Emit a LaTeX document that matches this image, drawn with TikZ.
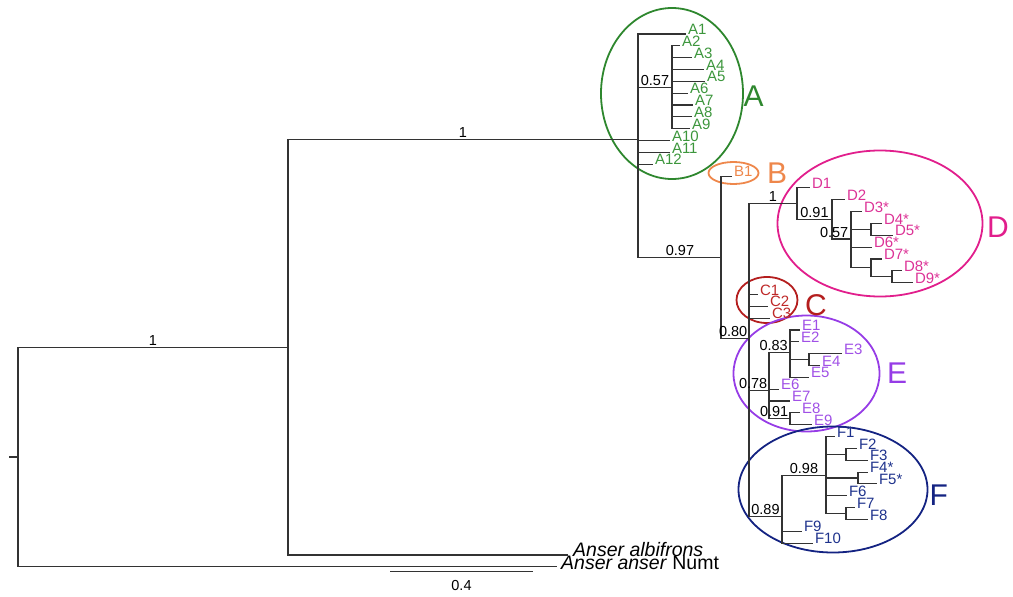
\documentclass[tikz,border=0pt]{standalone}
\usepackage{fontspec}
\setmainfont{Liberation Sans}
\usetikzlibrary{shapes.geometric}
\definecolor{cA}{RGB}{46,135,46}
\definecolor{tA}{RGB}{60,150,60}
\definecolor{cB}{RGB}{238,135,75}
\definecolor{cC}{RGB}{180,30,30}
\definecolor{tC}{RGB}{190,40,40}
\definecolor{cD}{RGB}{225,30,140}
\definecolor{tD}{RGB}{220,50,150}
\definecolor{cE}{RGB}{150,60,230}
\definecolor{tE}{RGB}{160,80,230}
\definecolor{cF}{RGB}{20,35,130}
\definecolor{tF}{RGB}{30,50,140}
\newcommand{\lf}[5]{\coordinate (#1) at (#2,#3); \node[lbl,text=#5] (t#1) at (#1) {#4};}
\begin{document}
\begin{tikzpicture}[x=1pt,y=-1pt,
  br/.style={draw=black!80,line width=1.1pt},
  lbl/.style={anchor=base west,inner sep=0pt,xshift=1.8pt,yshift=-0.6pt,font=\fontsize{15}{18}\selectfont},
  post/.style={inner sep=0pt,font=\fontsize{14.5}{17}\selectfont,text=black},
  oval/.style={ellipse,draw,line width=1.8pt,inner sep=0pt},
  big/.style={anchor=base west,inner sep=0pt,font=\fontsize{30}{34}\selectfont}]
\useasboundingbox (0,0) rectangle (1013,597);
% internal nodes
\coordinate (root) at (18,456.96);
\coordinate (tick) at (9,456.96);
\coordinate (n288) at (288,347.12);
\coordinate (nA) at (638,139.28);
\coordinate (nA57) at (672,87.28);
\coordinate (nB97) at (721,257.17);
\coordinate (nC80) at (749,338.27);
\coordinate (nD) at (797,203.65);
\coordinate (nD91) at (832,219.37);
\coordinate (nD57) at (851,238.98);
\coordinate (nD45) at (871,229.36);
\coordinate (nD79) at (871,267.84);
\coordinate (nD89) at (892,276.72);
\coordinate (nE) at (769,390.31);
\coordinate (nE83) at (790,352.2);
\coordinate (nE34) at (809,359.6);
\coordinate (nE91) at (790,418.8);
\coordinate (nF) at (782,516.68);
\coordinate (nF98) at (826,475.63);
\coordinate (nF23) at (846,454.32);
\coordinate (nF45) at (858,478.0);
\coordinate (nF78) at (846,513.52);
% ovals
\node[oval,draw=cA,minimum width=142pt,minimum height=171pt] (ovA) at (672,93.5) {};
\node[oval,draw=cB,minimum width=50pt,minimum height=22pt] (ovB) at (733.5,173) {};
\node[oval,draw=cC,minimum width=61pt,minimum height=46pt] (ovC) at (767,300) {};
\node[oval,draw=cD,minimum width=205pt,minimum height=146pt] (ovD) at (880,223.5) {};
\node[oval,draw=cE,minimum width=146pt,minimum height=116pt] (ovE) at (806.5,373.5) {};
\node[oval,draw=cF,minimum width=189pt,minimum height=126pt] (ovF) at (833,489.5) {};
% leaves
\lf{A1}{686}{34.00}{A1}{tA}
\lf{A2}{680}{45.84}{A2}{tA}
\lf{A3}{692}{57.68}{A3}{tA}
\lf{A4}{704}{69.52}{A4}{tA}
\lf{A5}{705}{81.36}{A5}{tA}
\lf{A6}{688}{93.20}{A6}{tA}
\lf{A7}{693}{105.04}{A7}{tA}
\lf{A8}{692}{116.88}{A8}{tA}
\lf{A9}{690}{128.72}{A9}{tA}
\lf{A10}{670}{140.56}{A10}{tA}
\lf{A11}{670}{152.40}{A11}{tA}
\lf{A12}{653}{164.24}{A12}{tA}
\lf{B1}{732}{176.08}{B1}{cB}
\lf{D1}{810}{187.92}{D1}{tD}
\lf{D2}{845}{199.76}{D2}{tD}
\lf{D3}{862}{211.60}{D3*}{tD}
\lf{D4}{882}{223.44}{D4*}{tD}
\lf{D5}{893}{235.28}{D5*}{tD}
\lf{D6}{872}{247.12}{D6*}{tD}
\lf{D7}{882}{258.96}{D7*}{tD}
\lf{D8}{902}{270.80}{D8*}{tD}
\lf{D9}{913}{282.64}{D9*}{tD}
\lf{C1}{758}{294.48}{C1}{tC}
\lf{C2}{768}{306.32}{C2}{tC}
\lf{C3}{770}{318.16}{C3}{tC}
\lf{E1}{800}{330.00}{E1}{tE}
\lf{E2}{799}{341.84}{E2}{tE}
\lf{E3}{842}{353.68}{E3}{tE}
\lf{E4}{820}{365.52}{E4}{tE}
\lf{E5}{809}{377.36}{E5}{tE}
\lf{E6}{779}{389.20}{E6}{tE}
\lf{E7}{790}{401.04}{E7}{tE}
\lf{E8}{800}{412.88}{E8}{tE}
\lf{E9}{812}{424.72}{E9}{tE}
\lf{F1}{835}{436.56}{F1}{tF}
\lf{F2}{857}{448.40}{F2}{tF}
\lf{F3}{868}{460.24}{F3}{tF}
\lf{F4}{868}{472.08}{F4*}{tF}
\lf{F5}{877}{483.92}{F5*}{tF}
\lf{F6}{847}{495.76}{F6}{tF}
\lf{F7}{855}{507.60}{F7}{tF}
\lf{F8}{868}{519.44}{F8}{tF}
\lf{F9}{802}{531.28}{F9}{tF}
\lf{F10}{813}{543.12}{F10}{tF}
\coordinate (alb) at (568,554.96);
\coordinate (numt) at (557,566.8);
\node[anchor=base west,inner sep=0pt,font=\fontsize{19.5}{22}\selectfont\itshape] (talb) at (573,556.7) {Anser albifrons};
\node[anchor=base west,inner sep=0pt,font=\fontsize{19.5}{22}\selectfont] (tnumt) at (561,569.8) {\textit{Anser anser} Numt};
% branches
\draw[br] (tick) -- (root) (root) |- (n288) (root) |- (numt)
  (n288) |- (nA) (n288) |- (alb)
  (nA) |- (A1) (nA) |- (nA57) (nA) |- (A10) (nA) |- (A11) (nA) |- (A12) (nA) |- (nB97)
  (nA57) |- (A2) (nA57) |- (A3) (nA57) |- (A4) (nA57) |- (A5) (nA57) |- (A6) (nA57) |- (A7) (nA57) |- (A8) (nA57) |- (A9)
  (nB97) |- (B1) (nB97) |- (nC80)
  (nC80) |- (nD) (nC80) |- (C1) (nC80) |- (C2) (nC80) |- (C3) (nC80) |- (nE) (nC80) |- (nF)
  (nD) |- (D1) (nD) |- (nD91)
  (nD91) |- (D2) (nD91) |- (nD57)
  (nD57) |- (D3) (nD57) |- (nD45) (nD57) |- (D6) (nD57) |- (nD79)
  (nD45) |- (D4) (nD45) |- (D5)
  (nD79) |- (D7) (nD79) |- (nD89)
  (nD89) |- (D8) (nD89) |- (D9)
  (nE) |- (nE83) (nE) |- (E6) (nE) |- (E7) (nE) |- (nE91)
  (nE83) |- (E1) (nE83) |- (E2) (nE83) |- (nE34) (nE83) |- (E5)
  (nE34) |- (E3) (nE34) |- (E4)
  (nE91) |- (E8) (nE91) |- (E9)
  (nF) |- (nF98) (nF) |- (F9) (nF) |- (F10)
  (nF98) |- (F1) (nF98) |- (nF23) (nF98) |- (nF45) (nF98) |- (F6) (nF98) |- (nF78)
  (nF23) |- (F2) (nF23) |- (F3)
  (nF45) |- (F4) (nF45) |- (F5)
  (nF78) |- (F7) (nF78) |- (F8);
% posterior labels
\node[post,anchor=base] (p1) at (153,345.3) {1};
\node[post,anchor=base] (p2) at (463,137.5) {1};
\node[post,anchor=base] (p3) at (655,85.4) {0.57};
\node[post,anchor=base] (p4) at (680,255.3) {0.97};
\node[post,anchor=base] (p5) at (773,201.8) {1};
\node[post,anchor=base] (p6) at (814.5,217.5) {0.91};
\node[post,anchor=base east] (p7) at (848.5,237.1) {0.57};
\node[post,anchor=base east] (p8) at (747.5,336.4) {0.80};
\node[post,anchor=base east] (p9) at (767.5,388.4) {0.78};
\node[post,anchor=base east] (p10) at (788,350.3) {0.83};
\node[post,anchor=base east] (p11) at (788.5,416.9) {0.91};
\node[post,anchor=base] (p12) at (804,473.8) {0.98};
\node[post,anchor=base] (p13) at (765.5,514.8) {0.89};
% clade letters
\node[big,text=cA] (LA) at (743.5,106) {A};
\node[big,text=cB] (LB) at (767,183) {B};
\node[big,text=cC] (LC) at (805,315.5) {C};
\node[big,text=cD] (LD) at (987,237) {D};
\node[big,text=cE] (LE) at (887,383) {E};
\node[big,text=cF] (LF) at (929.5,505) {F};
% scale bar
\coordinate (sb1) at (390,571.7);
\coordinate (sb2) at (533,571.7);
\draw[br] (sb1) -- (sb2);
\node[post,anchor=base] (sbl) at (461.5,590) {0.4};
\end{tikzpicture}
\end{document}
